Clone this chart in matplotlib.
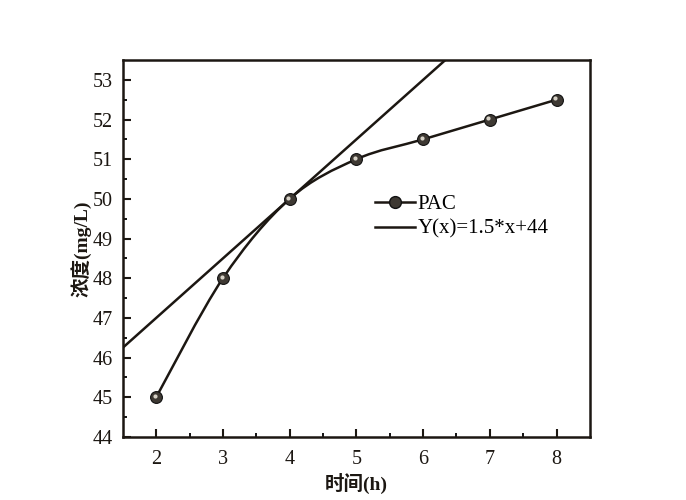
import numpy as np
import matplotlib
matplotlib.use("Agg")
import matplotlib.pyplot as plt
from matplotlib.path import Path
from matplotlib.patches import PathPatch
from matplotlib.lines import Line2D
from matplotlib.transforms import offset_copy

plt.rcParams['font.family'] = ['Liberation Serif', 'Noto Sans CJK SC']

# data
time_h = [2, 3, 4, 5, 6, 7, 8]
pac = [45, 48, 50, 51, 51.5, 52, 52.5]
fit_slope = 1.5
fit_intercept = 44
x_ticks = [2, 3, 4, 5, 6, 7, 8]
y_ticks = [44, 45, 46, 47, 48, 49, 50, 51, 52, 53]

col = '#1c1712'

fig = plt.figure(figsize=(6.86, 5.00), dpi=100)
ax = fig.add_axes([0.179, 0.126, 0.681, 0.754])

# fit line
xf = np.array([1.5, 8.5])
ax.plot(xf, fit_slope * xf + fit_intercept, color=col, lw=1.8, zorder=2)

# smooth connecting curve (Catmull-Rom as cubic Bezier path)
x = np.array(time_h, float)
y = np.array(pac, float)
verts = [(x[0], y[0])]
codes = [Path.MOVETO]
for i in range(len(x) - 1):
    p0 = np.array([x[max(i - 1, 0)], y[max(i - 1, 0)]])
    p1 = np.array([x[i], y[i]])
    p2 = np.array([x[i + 1], y[i + 1]])
    p3 = np.array([x[min(i + 2, len(x) - 1)], y[min(i + 2, len(x) - 1)]])
    c1 = p1 + (p2 - p0) / 6.0
    c2 = p2 - (p3 - p1) / 6.0
    verts += [tuple(c1), tuple(c2), tuple(p2)]
    codes += [Path.CURVE4] * 3
ax.add_patch(PathPatch(Path(verts, codes), fill=False, edgecolor=col, lw=1.8, zorder=3))

# sphere-like markers
ax.plot(time_h, pac, ls='none', marker='o', ms=8.5, mfc='#3e3933', mec='#111', mew=0.8, zorder=4)
hl = offset_copy(ax.transData, fig=fig, x=-1.0, y=1.0, units='points')
ax.plot(time_h, pac, ls='none', marker='o', ms=3, mfc='#d6d1c6', mec='none', transform=hl, zorder=5)

ax.set_xlim(1.5, 8.5)
ax.set_ylim(44, 53.5)
ax.set_xticks(x_ticks)
ax.set_yticks(y_ticks)
ax.set_xticks(np.arange(2.5, 8.5, 1), minor=True)
ax.set_yticks(np.arange(44.5, 53.5, 1), minor=True)
ax.tick_params(which='major', direction='in', length=6, width=1.5, labelsize=14.5, colors=col, pad=7)
ax.tick_params(which='minor', direction='in', length=3, width=1.3)
ax.tick_params(axis='x', pad=9)
for s in ax.spines.values():
    s.set_linewidth(1.8)
    s.set_color(col)

ax.set_xlabel('时间(h)', fontsize=14, fontweight='bold', labelpad=3, color=col)
ax.set_ylabel('浓度(mg/L)', fontsize=14, fontweight='bold', labelpad=1, color=col)

h1 = Line2D([], [], color=col, lw=1.8, marker='o', ms=8.5, mfc='#3e3933', mec='#111')
h2 = Line2D([], [], color=col, lw=1.8)
ax.legend([h1, h2], ['PAC', 'Y(x)=1.5*x+44'], loc='upper left', bbox_to_anchor=(0.54, 0.643),
          frameon=False, fontsize=15, handlelength=1.9, handletextpad=0.15, labelspacing=0.25,
          borderpad=0, borderaxespad=0)

fig.savefig('out.png', dpi=100)
